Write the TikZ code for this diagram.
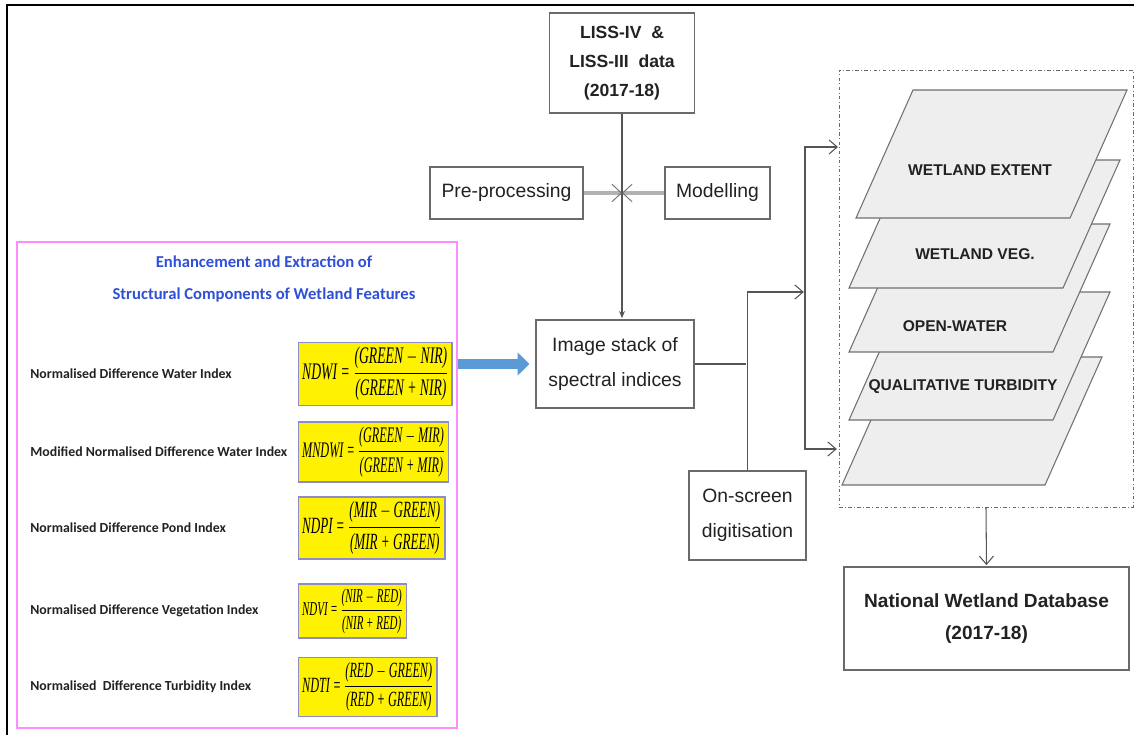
\documentclass[tikz,border=0pt]{standalone}
\usepackage{fontspec}
\setmainfont{Liberation Sans}
\newfontfamily\calfont{Carlito}
\newfontfamily\formfont{Liberation Serif}
\usepackage{amsmath}
\usepackage{graphicx}
\usetikzlibrary{positioning,arrows.meta,calc}

\definecolor{linegray}{HTML}{555555}
\definecolor{boxgray}{HTML}{6A6A6A}
\definecolor{layergray}{HTML}{707070}
\definecolor{layerfill}{HTML}{EEEEEE}
\definecolor{pinkline}{HTML}{FF8CFF}
\definecolor{titleblue}{HTML}{2F4FD6}
\definecolor{formborder}{HTML}{8C8CC8}
\definecolor{arrowblue}{HTML}{5B9BD5}
\definecolor{textdark}{HTML}{222222}

% index formula: name = (a - b)/(a + b)
\newcommand{\ndx}[3]{#1 = $\dfrac{\hbox{(#2 $-$ #3)}}{\hbox{(#2 + #3)}}$}

\begin{document}
\begin{tikzpicture}[
  x=0.03cm, y=-0.03cm, % one unit is one pixel of the drawing
  >={Straight Barb[length=7pt,width=12pt]}, % open arrow heads
  shorten >=1pt,
  thick,
  main box/.style={draw=boxgray,fill=white,line width=1.2pt,align=center,text=textdark,font=\fontsize{16.5}{30}\selectfont}, % grey process boxes
  bold box/.style={main box,font=\bfseries\fontsize{15}{24.5}\selectfont}, % data boxes
  layer/.style={fill=layerfill,draw=layergray,line width=0.9pt}, % stacked wetland layers
  layer text/.style={font=\bfseries\fontsize{13.3}{16}\selectfont,text=textdark},
  index label/.style={anchor=west,font=\calfont\bfseries\fontsize{11.8}{14}\selectfont,text=textdark},
  index box/.style={anchor=west,fill=yellow,draw=formborder,line width=1.1pt,inner xsep=3pt,inner ysep=4pt,font=\formfont\itshape},
  link/.style={draw=linegray,line width=0.9pt},
  gray link/.style={draw=gray!60,line width=3pt,shorten >=0pt,->,>={Straight Barb[length=8pt,width=15pt,line width=0.8pt,color=gray!90!black]}},
  blue arrow/.style={draw=arrowblue,line width=8.5pt,-{Triangle[length=10pt,width=19pt]}}
  ]
  \useasboundingbox (0,0) rectangle (1135,735);
  \draw[line width=1.8pt] (7,735) |- (1135,5);

  % processing chain
  \node[bold box,minimum width=4.35cm,minimum height=3cm] (liss) at (622,63) {LISS-IV \ \&\\LISS-III \ data\\(2017-18)};
  \node[main box,minimum width=4.59cm,minimum height=1.56cm] (pre) at (506.5,193) {Pre-processing};
  \node[main box,minimum width=3.15cm,minimum height=1.56cm] (model) at (717.5,193) {Modelling};
  \node[main box,minimum width=4.74cm,minimum height=2.64cm] (stack) at (615,364) {Image stack of\\spectral indices};
  \node[main box,minimum width=3.51cm,minimum height=2.67cm] (screen) at (747.5,515.5) {On-screen\\digitisation};
  \node[bold box,font=\bfseries\fontsize{16.3}{27}\selectfont,minimum width=8.55cm,minimum height=3.09cm] (nwd) at (986.5,618.5) {National Wetland Database\\(2017-18)};

  % wetland layers
  \node[draw=boxgray,line width=0.8pt,dash dot,minimum width=8.82cm,minimum height=13.11cm] (frame) at (986,288.5) {};
  \filldraw[layer] (842,485) -- ++(203,0) -- ++(57,-128) -- ++(-203,0) -- cycle;
  \foreach \x/\y/\w/\name/\lx/\ly/\txt in {849/420/204/turb/963/387/{QUALITATIVE TURBIDITY},
      849/352/204/water/955/326/{OPEN-WATER}, 849/288/214/veg/975/254/{WETLAND VEG.},
      856/218/214/extent/980/170/{WETLAND EXTENT}} {
    \filldraw[layer] (\x,\y) -- ++(\w,0) -- ++(57,-128) -- ++(-\w,0) -- cycle;
    \node[layer text] (\name) at (\lx,\ly) {\txt};
  }

  % index panel
  \node[draw=pinkline,line width=1.6pt,minimum width=13.2cm,minimum height=14.58cm] (enhance) at (237,485) {};
  \node[align=center,text=titleblue,font=\calfont\bfseries\fontsize{14.2}{27}\selectfont] (title) at (264,279)
    {Enhancement and Extraction of\\Structural Components of Wetland Features};
  \foreach \n/\yy/\fw/\fh/\lab/\frm in {
      1/374/125/46/{Normalised Difference Water Index}/{\ndx{NDWI}{GREEN}{NIR}},
      2/452/122/43/{Modified Normalised Difference Water Index}/{\ndx{MNDWI}{GREEN}{MIR}},
      3/528/119/45/{Normalised Difference Pond Index}/{\ndx{NDPI}{MIR}{GREEN}},
      4/611/86/38/{Normalised Difference Vegetation Index}/{\ndx{NDVI}{NIR}{RED}},
      5/687/112/42/{Normalised\ \ Difference Turbidity Index}/{\ndx{NDTI}{RED}{GREEN}}} {
    \node[index label] (l\n) at (26,\yy) {\lab};
    \node[index box] (f\n) at (298,\yy) {\resizebox*{\fw pt}{\fh pt}{\fontsize{12}{14}\selectfont\frm}};
  }

  % connectors
  \coordinate (bend) at (805,292);
  \coordinate (top) at (838,147);
  \coordinate (bot) at (838,449);
  \draw[link,-{Stealth[length=6pt,width=5pt]}] (liss.south) -- (liss.south |- stack.north);
  \draw[gray link] (pre.east) -- (liss.south |- pre.east);
  \draw[gray link] (model.west) -- (liss.south |- model.west);
  \draw[blue arrow,shorten >=5pt] (enhance.east |- stack.west) -- (stack.west);
  \draw[link] (stack.east) -- (stack.east -| screen.north);
  \draw[link,->] (screen.north) |- (bend);
  \draw[link,<->] (top) -| (bend) |- (bot);
  \draw[link,->] (frame.south) -- (nwd.north);
\end{tikzpicture}
\end{document}
